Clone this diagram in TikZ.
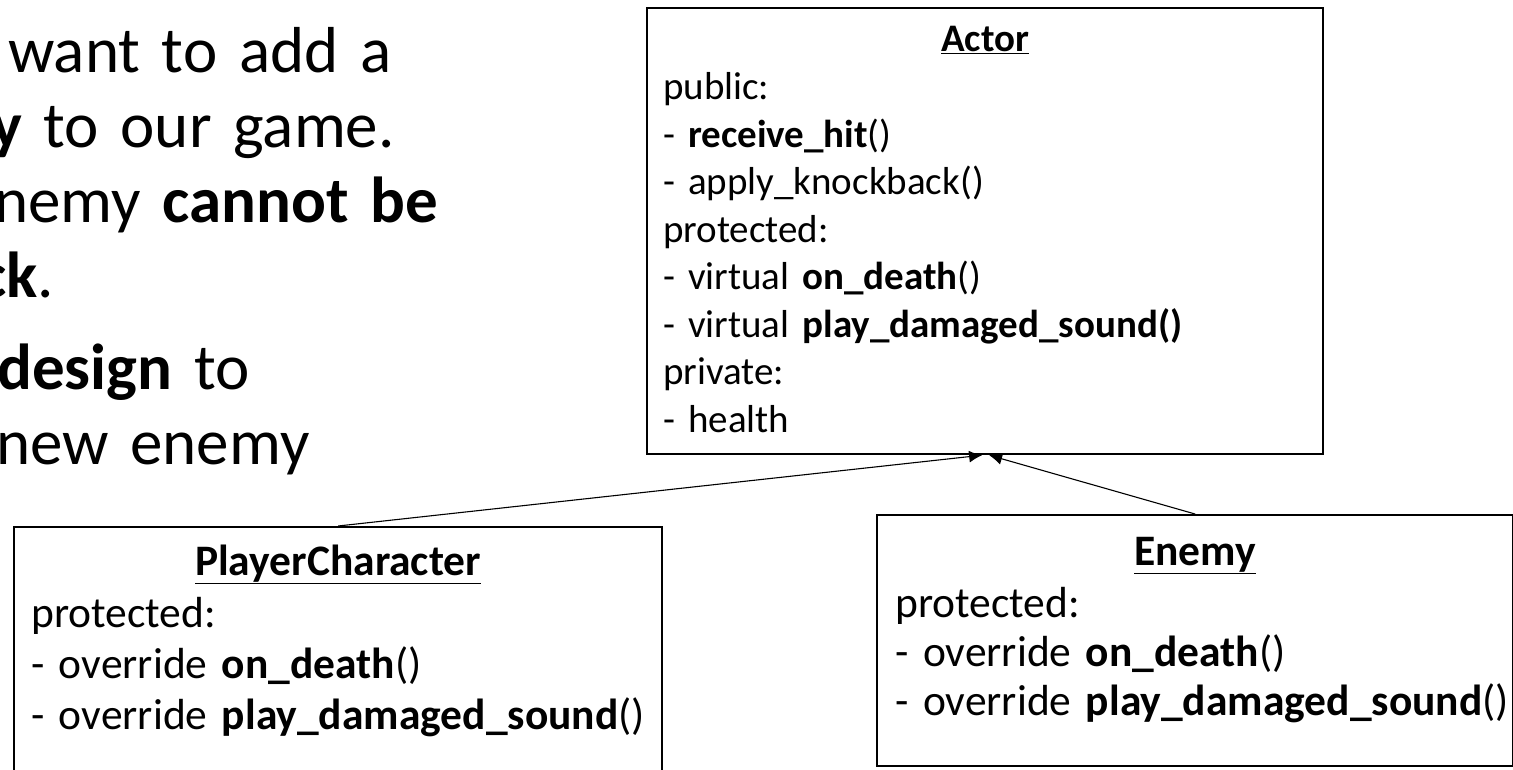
\documentclass[tikz,border=0pt]{standalone}
\usepackage{fontspec}
\setmainfont{Carlito}
\usetikzlibrary{arrows.meta}

\begin{document}
\begin{tikzpicture}[
  x=1pt, y=-1pt,
  classbox/.style={draw, line width=2.2pt, anchor=north west, inner sep=0pt},
  title/.style={anchor=base, inner sep=0pt},
  members/.style={anchor=base west, inner sep=0pt, align=left},
  actortext/.style={font=\fontsize{39}{47.5}\selectfont},
  subtext/.style={font=\fontsize{43.5}{50}\selectfont},
  inherit/.style={-{Latex[length=13pt,width=12pt]}, line width=1.1pt}
]

% page frame
\useasboundingbox (0,0) rectangle (1513,770);
\clip (0,0) rectangle (1513,770);
\fill[white] (0,0) rectangle (1513,770);

% task text (cut at the left edge)
\node[members, text width=640pt, font=\fontsize{65}{75}\selectfont] (task) at (-21,73) {%
\hspace*{29pt}want to add a\\
\hspace*{12pt}\textbf{y} to our game.\\
\hspace*{15pt}nemy \textbf{cannot be}\\
\textbf{ck}.\\[17pt]
\hspace*{18pt}\textbf{design} to\\
\hspace*{17pt}new enemy};

% Actor
\node[classbox, minimum width=676pt, minimum height=446pt] (actor) at (646,7) {};
\node[title, actortext] (actortitle) at ([yshift=-45pt]actor.north) {\underline{\textbf{Actor}}};
\node[members, actortext, text width=655pt] (actormembers) at ([xshift=17pt, yshift=-93pt]actor.north west) {%
public:\\
- \textbf{receive\_hit}()\\
- apply\_knockback()\\
protected:\\
- virtual \textbf{on\_death}()\\
- virtual \textbf{play\_damaged\_sound()}\\
private:\\
- health};

% PlayerCharacter
\node[classbox, minimum width=648pt, minimum height=290pt] (player) at (13,526) {};
\node[title, subtext] (playertitle) at ([yshift=-49pt]player.north) {\underline{\textbf{PlayerCharacter}}};
\node[members, font=\fontsize{43.5}{51}\selectfont, text width=628pt] (playermembers) at ([xshift=18pt, yshift=-101pt]player.north west) {%
protected:\\
- override \textbf{on\_death}()\\
- override \textbf{play\_damaged\_sound}()};

% Enemy
\node[classbox, minimum width=636pt, minimum height=251pt] (enemy) at (876,514) {};
\node[title, subtext] (enemytitle) at ([yshift=-51pt]enemy.north) {\underline{\textbf{Enemy}}};
\node[members, font=\fontsize{43.5}{49}\selectfont, text width=615pt] (enemymembers) at ([xshift=19pt, yshift=-103pt]enemy.north west) {%
protected:\\
- override \textbf{on\_death}()\\
- override \textbf{play\_damaged\_sound}()};

% inheritance
\draw[inherit] (player.north) -- ([xshift=-3pt]actor.south);
\draw[inherit] (enemy.north) -- ([xshift=4pt]actor.south);

\end{tikzpicture}
\end{document}
